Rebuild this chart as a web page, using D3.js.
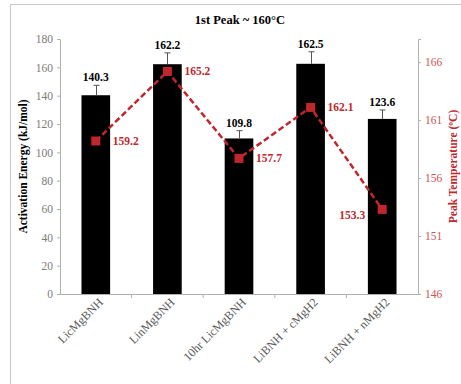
<!DOCTYPE html>
<html>
<head>
<meta charset="utf-8">
<script src="https://cdn.jsdelivr.net/npm/d3@7"></script>
<style>
  body { margin: 0; background: #fff; }
  svg text { font-family: "Liberation Serif", "Times New Roman", "DejaVu Serif", serif !important; }
</style>
</head>
<body>
<div id="stage_id"></div>
<script>
// data
var categories = ["LicMgBNH", "LinMgBNH", "10hr LicMgBNH", "LiBNH + cMgH2", "LiBNH + nMgH2"];
var energy = [140.3, 162.2, 109.8, 162.5, 123.6];
var energyErr = [7, 8, 5.5, 8.5, 6.3];
var peakTemp = [159.2, 165.2, 157.7, 162.1, 153.3];
var leftTicks = [0, 20, 40, 60, 80, 100, 120, 140, 160, 180];
var rightTicks = [146, 151, 156, 161, 166];

var W = 461, H = 384;
var margin = {top: 39, right: 43, bottom: 90, left: 60};
var width = W - margin.left - margin.right;
var height = H - margin.top - margin.bottom;

var red = "#c0272d";

var svg = d3.select("#stage_id")
  .append("svg")
  .attr("width", W)
  .attr("height", H)
  .attr("font-family", "Liberation Serif, serif");

// outer frame
svg.append("rect")
  .attr("x", 10.5).attr("y", 4.5)
  .attr("width", W).attr("height", H)
  .attr("fill", "none")
  .attr("stroke", "#c8c8c8");

svg.append("text")
  .attr("x", 240).attr("y", 24)
  .attr("text-anchor", "middle")
  .attr("font-size", 12.5)
  .attr("font-weight", "bold")
  .text("1st Peak ~ 160°C");

var g = svg.append("g")
  .attr("transform", "translate(" + margin.left + "," + margin.top + ")");

var xScale = d3.scaleBand()
  .domain(categories)
  .range([0, width])
  .paddingInner(0.6)
  .paddingOuter(0.3);

var yScale = d3.scaleLinear().domain([0, 180]).range([height, 0]);
var y2Scale = d3.scaleLinear().domain([146, 168]).range([height, 0]);

// axes
var yAxis = d3.axisLeft(yScale).tickValues(leftTicks).tickSize(3).tickPadding(4);
var y2Axis = d3.axisRight(y2Scale).tickValues(rightTicks).tickSize(3).tickPadding(4);

var gY = g.append("g").call(yAxis);
gY.attr("font-family", null);
gY.select(".domain").attr("stroke", "#b0b0b0").attr("d", "M-3,0.5H0.5V" + (height + 0.5));
gY.selectAll(".tick line").attr("stroke", "#b0b0b0");
gY.selectAll(".tick text").attr("fill", "#7a7a7a").attr("font-size", 11.5);

var gY2 = g.append("g").attr("transform", "translate(" + width + ",0)").call(y2Axis);
gY2.attr("font-family", null);
gY2.select(".domain").attr("stroke", "#b0b0b0").attr("d", "M3,0.5H0.5V" + (height + 0.5) + "H3");
gY2.selectAll(".tick line").attr("stroke", "#b0b0b0");
gY2.selectAll(".tick text").attr("fill", "#d05050").attr("font-size", 11.5);

// x axis
var step = width / categories.length;
var gX = g.append("g").attr("transform", "translate(0," + height + ")");
gX.append("line")
  .attr("x1", -3).attr("x2", width).attr("y1", 0.5).attr("y2", 0.5)
  .attr("stroke", "#b0b0b0");
gX.selectAll(".sep")
  .data(d3.range(1, categories.length))
  .enter().append("line")
  .attr("x1", function(d){ return d * step; })
  .attr("x2", function(d){ return d * step; })
  .attr("y1", 0).attr("y2", 4)
  .attr("stroke", "#b0b0b0");
gX.selectAll(".lab")
  .data(categories)
  .enter().append("text")
  .attr("transform", function(d){
    return "translate(" + (xScale(d) + xScale.bandwidth() / 2 + 8) + ",9) rotate(-45)";
  })
  .attr("text-anchor", "end")
  .attr("fill", "#595959")
  .attr("font-size", 12)
  .text(function(d){ return d; });

// bars
g.selectAll(".bar")
  .data(energy)
  .enter().append("rect")
  .attr("x", function(d, i){ return xScale(categories[i]); })
  .attr("y", function(d){ return yScale(d); })
  .attr("width", xScale.bandwidth())
  .attr("height", function(d){ return height - yScale(d); })
  .attr("fill", "#000");

// error bars
var cx = function(i){ return xScale(categories[i]) + xScale.bandwidth() / 2; };
g.selectAll(".err")
  .data(energy)
  .enter().append("path")
  .attr("d", function(d, i){
    var x = Math.round(cx(i)) + 0.5, yt = yScale(d + energyErr[i]);
    return "M" + x + "," + yScale(d) + "V" + yt + "M" + (x - 3) + "," + yt + "H" + (x + 3);
  })
  .attr("stroke", "#555")
  .attr("stroke-width", 1)
  .attr("fill", "none");

g.selectAll(".elab")
  .data(energy)
  .enter().append("text")
  .attr("x", function(d, i){ return cx(i); })
  .attr("y", function(d, i){ return yScale(d + energyErr[i]) - 4; })
  .attr("text-anchor", "middle")
  .attr("font-size", 11.5)
  .attr("font-weight", "bold")
  .text(function(d){ return d.toFixed(1); });

// peak temperature line
var line = d3.line()
  .x(function(d, i){ return cx(i); })
  .y(function(d){ return y2Scale(d); });

g.append("path")
  .datum(peakTemp)
  .attr("d", line)
  .attr("fill", "none")
  .attr("stroke", red)
  .attr("stroke-width", 2.5)
  .attr("stroke-dasharray", "6,3");

g.selectAll(".mk")
  .data(peakTemp)
  .enter().append("rect")
  .attr("x", function(d, i){ return cx(i) - 4.5; })
  .attr("y", function(d){ return y2Scale(d) - 4.5; })
  .attr("width", 9).attr("height", 9)
  .attr("fill", red);

g.selectAll(".tlab")
  .data(peakTemp)
  .enter().append("text")
  .attr("x", function(d, i){ return i == 4 ? cx(i) - 17 : cx(i) + 17; })
  .attr("y", function(d, i){ return y2Scale(d) + (i == 4 ? 10 : 4); })
  .attr("text-anchor", function(d, i){ return i == 4 ? "end" : "start"; })
  .attr("fill", red)
  .attr("font-size", 11.5)
  .attr("font-weight", "bold")
  .text(function(d){ return d.toFixed(1); });

// axis titles
svg.append("text")
  .attr("transform", "translate(27," + (margin.top + height / 2) + ") rotate(-90)")
  .attr("text-anchor", "middle")
  .attr("font-size", 11.5)
  .attr("font-weight", "bold")
  .text("Activation Energy (kJ/mol)");

svg.append("text")
  .attr("transform", "translate(457," + (margin.top + height / 2) + ") rotate(-90)")
  .attr("text-anchor", "middle")
  .attr("fill", red)
  .attr("font-size", 11.5)
  .attr("font-weight", "bold")
  .text("Peak Temperature (ºC)");
</script>
</body>
</html>
